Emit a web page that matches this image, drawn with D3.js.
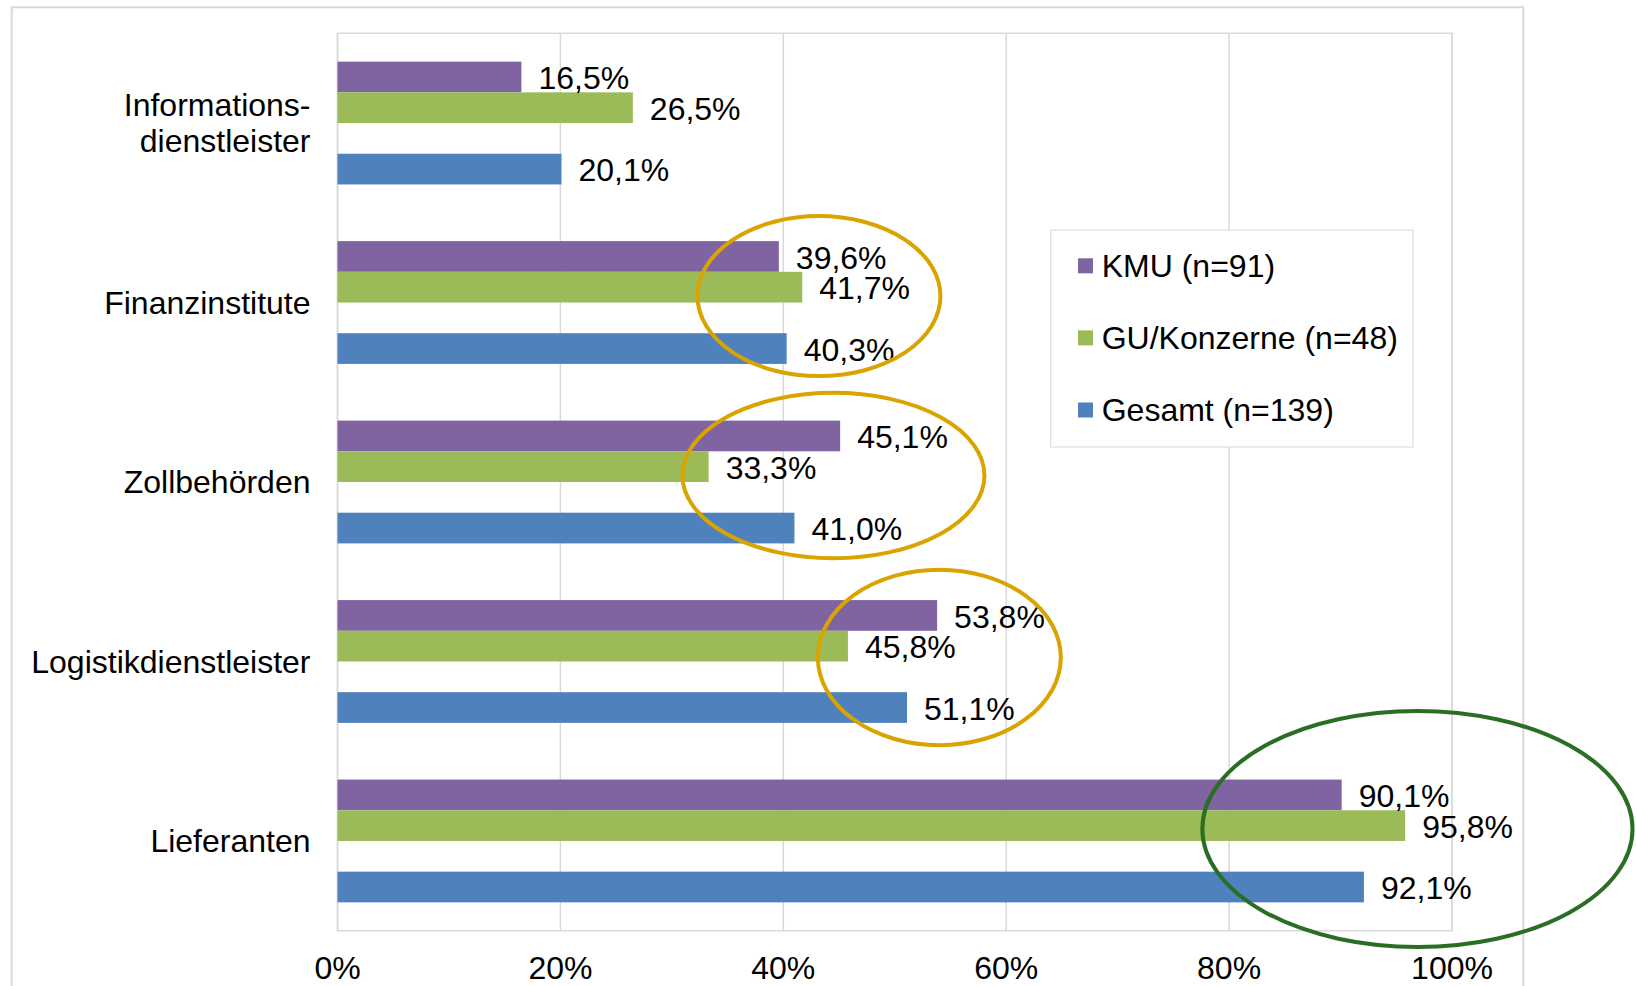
<!DOCTYPE html>
<html>
<head>
<meta charset="utf-8">
<script src="https://cdn.jsdelivr.net/npm/d3@7"></script>
<style>
  body { margin: 0; background: #fff; }
  text { font-family: "Liberation Sans", Arial, sans-serif; fill: #000; }
</style>
</head>
<body>
<div id="chart"></div>
<script>
// data
var categories = ["Informations-\ndienstleister", "Finanzinstitute", "Zollbehörden", "Logistikdienstleister", "Lieferanten"];
var seriesNames = ["KMU (n=91)", "GU/Konzerne (n=48)", "Gesamt (n=139)"];
var kmuValues = [16.5, 39.6, 45.1, 53.8, 90.1];
var guValues = [26.5, 41.7, 33.3, 45.8, 95.8];
var gesamtValues = [20.1, 40.3, 41.0, 51.1, 92.1];
var xTicks = [0, 20, 40, 60, 80, 100];

// highlight ellipses (category index, centre in %, half width in %)
var ringCats = [1, 2, 3, 4];
var ringCentres = [43.2, 44.5, 54.0, 96.9];
var ringHalfWidths = [10.9, 13.55, 10.9, 19.3];

var WIDTH = 1637, HEIGHT = 986;
var margin = {left: 337.5, right: WIDTH - 1452, top: 33.3, bottom: HEIGHT - 930.7};
var colors = ["#8064a2", "#9bbb59", "#4f81bd"];
var FONT = 32;

var svg = d3.select("#chart").append("svg")
  .attr("width", WIDTH)
  .attr("height", HEIGHT);

// outer chart frame
svg.append("rect")
  .attr("x", 11.7).attr("y", 7.3)
  .attr("width", 1523.3 - 11.7).attr("height", 1100)
  .attr("fill", "#fff")
  .attr("stroke", "#d9d9d9")
  .attr("stroke-width", 2);

var x = d3.scaleLinear()
  .domain([0, 100])
  .range([margin.left, WIDTH - margin.right]);

var y = d3.scaleBand()
  .domain(d3.range(categories.length))
  .range([margin.top, HEIGHT - margin.bottom]);

// 4 slots per category, the third one stays empty
var ySub = d3.scaleBand()
  .domain([0, 1, "gap", 2])
  .range([0, y.bandwidth()])
  .paddingOuter(0.923);

// gridlines + plot frame
svg.append("g")
  .selectAll("line")
  .data(xTicks)
  .join("line")
    .attr("x1", d => x(d)).attr("x2", d => x(d))
    .attr("y1", margin.top).attr("y2", HEIGHT - margin.bottom)
    .attr("stroke", "#d9d9d9")
    .attr("stroke-width", 1.5);

svg.append("rect")
  .attr("x", x(0)).attr("y", margin.top)
  .attr("width", x(100) - x(0))
  .attr("height", HEIGHT - margin.bottom - margin.top)
  .attr("fill", "none")
  .attr("stroke", "#d9d9d9")
  .attr("stroke-width", 1.5);

var table = [];
categories.forEach((c, i) => {
  [kmuValues, guValues, gesamtValues].forEach((vals, s) => {
    table.push({cat: i, series: s, value: vals[i]});
  });
});

var bars = svg.append("g");
bars.selectAll("rect")
  .data(table)
  .join("rect")
    .attr("x", x(0))
    .attr("y", d => y(d.cat) + ySub(d.series))
    .attr("width", d => x(d.value) - x(0))
    .attr("height", ySub.bandwidth())
    .attr("fill", d => colors[d.series]);

// value labels
bars.selectAll("text")
  .data(table)
  .join("text")
    .attr("x", d => x(d.value) + 17)
    .attr("y", d => y(d.cat) + ySub(d.series) + ySub.bandwidth() / 2 + 1)
    .attr("dy", "0.35em")
    .style("font-size", FONT + "px")
    .text(d => d3.format(".1f")(d.value).replace(".", ",") + "%");

// category labels
var catLabels = svg.append("g");
categories.forEach((c, i) => {
  var lines = c.split("\n");
  var t = catLabels.append("text")
    .attr("text-anchor", "end")
    .style("font-size", FONT + "px");
  lines.forEach((ln, j) => {
    t.append("tspan")
      .attr("x", x(0) - 27)
      .attr("y", y(i) + y.bandwidth() / 2 + (j - (lines.length - 1) / 2) * 35.5)
      .attr("dy", "0.35em")
      .text(ln);
  });
});

// x tick labels
svg.append("g")
  .selectAll("text")
  .data(xTicks)
  .join("text")
    .attr("x", d => x(d))
    .attr("y", HEIGHT - margin.bottom + 48)
    .attr("text-anchor", "middle")
    .style("font-size", FONT + "px")
    .text(d => d + "%");

// highlight rings
var ringShape = [
  {ry: 80, dy: -6.4, color: "#d9a400"},
  {ry: 82.7, dy: -6.5, color: "#d9a400"},
  {ry: 87.7, dy: -4, color: "#d9a400"},
  {ry: 118, dy: -12, color: "#2a6e23"}
];
svg.append("g")
  .selectAll("ellipse")
  .data(ringCats)
  .join("ellipse")
    .attr("cx", (d, i) => x(ringCentres[i]))
    .attr("cy", (d, i) => y(d) + y.bandwidth() / 2 + ringShape[i].dy)
    .attr("rx", (d, i) => x(ringHalfWidths[i]) - x(0))
    .attr("ry", (d, i) => ringShape[i].ry)
    .attr("fill", "none")
    .attr("stroke", (d, i) => ringShape[i].color)
    .attr("stroke-width", 4);

// legend
var legend = svg.append("g").attr("transform", "translate(1050.7,230)");
legend.append("rect")
  .attr("width", 1413 - 1050.7)
  .attr("height", 447 - 230)
  .attr("fill", "#fff")
  .attr("stroke", "#e4e4de")
  .attr("stroke-width", 1.5);

var item = legend.selectAll("g.item")
  .data(seriesNames)
  .join("g")
    .attr("class", "item")
    .attr("transform", (d, i) => `translate(0,${35.8 + i * 72.1})`);

item.append("rect")
  .attr("x", 27.3).attr("y", -7.5)
  .attr("width", 15).attr("height", 15)
  .attr("fill", (d, i) => colors[i]);

item.append("text")
  .attr("x", 51)
  .attr("y", 0)
  .attr("dy", "0.35em")
  .style("font-size", FONT + "px")
  .text(d => d);
</script>
</body>
</html>
